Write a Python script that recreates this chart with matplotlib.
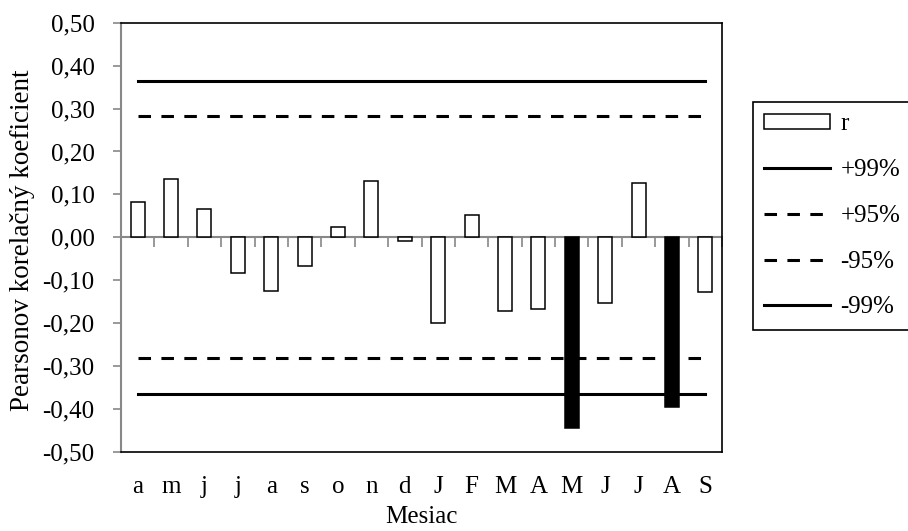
import matplotlib
matplotlib.use('Agg')
import matplotlib.pyplot as plt
from matplotlib.ticker import FuncFormatter, FixedLocator
import numpy as np

plt.rcParams['font.family'] = ['Liberation Serif', 'DejaVu Serif']
plt.rcParams['font.size'] = 18

# data
months = ['a', 'm', 'j', 'j', 'a', 's', 'o', 'n', 'd', 'J', 'F', 'M', 'A', 'M', 'J', 'J', 'A', 'S']
r = [0.082, 0.135, 0.066, -0.082, -0.125, -0.066, 0.025, 0.132, -0.009,
     -0.199, 0.053, -0.172, -0.168, -0.444, -0.154, 0.127, -0.395, -0.127]
lim99 = 0.365
lim95 = 0.282

n = len(r)
x = np.arange(n)
significant = [abs(v) > lim99 for v in r]
colors = ['black' if s else 'white' for s in significant]

fig = plt.figure(figsize=(9.08, 5.31), dpi=100)
ax = fig.add_axes([121/908, 1-452/531, (722-121)/908, (452-22.7)/531])

bars = ax.bar(x, r, width=0.42, color=colors, edgecolor='black', linewidth=1.1,
              label='r', zorder=3)

dash = (4.1, 3.4)
l1, = ax.plot(x, [lim99]*n, color='black', lw=2.2, label='+99%', zorder=4)
l2, = ax.plot(x, [lim95]*n, color='black', lw=2.2, dashes=dash, label='+95%', zorder=4)
l3, = ax.plot(x, [-lim95]*n, color='black', lw=2.2, dashes=dash, label='-95%', zorder=4)
l4, = ax.plot(x, [-lim99]*n, color='black', lw=2.2, label='-99%', zorder=4)

ax.set_xlim(-0.5, n-0.5)
ax.set_ylim(-0.5, 0.5)
ax.set_yticks(np.arange(-0.5, 0.51, 0.1))
ax.yaxis.set_major_formatter(FuncFormatter(lambda v, p: f'{v:.2f}'.replace('.', ',').replace('-0,00', '0,00')))
ax.tick_params(axis='y', direction='out', length=6, width=1.2, color='#888888', pad=13)

ax.set_xticks(x)
ax.set_xticklabels(months)
ax.tick_params(axis='x', length=0, pad=17)
ax.set_xlabel('Mesiac', labelpad=6)

for s in ['top', 'right', 'bottom']:
    ax.spines[s].set_color('black')
    ax.spines[s].set_linewidth(1.2)
ax.spines['left'].set_color('#888888')
ax.spines['left'].set_linewidth(1.5)

# zero axis with category tick marks
sec = ax.secondary_xaxis(0.5)
for s in sec.spines.values():
    s.set_color('#888888')
    s.set_linewidth(1.5)
sec.xaxis.set_major_locator(FixedLocator(np.arange(-0.5, n, 1.0)))
sec.tick_params(axis='x', direction='in', length=7, width=1.2, color='#888888',
                labeltop=False, labelbottom=False)

fig.text(23/908, 1-240/531, 'Pearsonov korelačný koeficient', rotation=90,
         ha='center', va='center', fontsize=19.5)

leg = fig.legend(handles=[bars, l1, l2, l3, l4], loc='upper left',
                 bbox_to_anchor=(753/908, 1-102/531), frameon=True, fancybox=False,
                 framealpha=1, edgecolor='black', handlelength=2.64, handleheight=0.5,
                 labelspacing=0.95, handletextpad=0.4, borderpad=0.45, borderaxespad=0)
leg.get_frame().set_linewidth(1.2)

fig.savefig('out.png', dpi=100)
